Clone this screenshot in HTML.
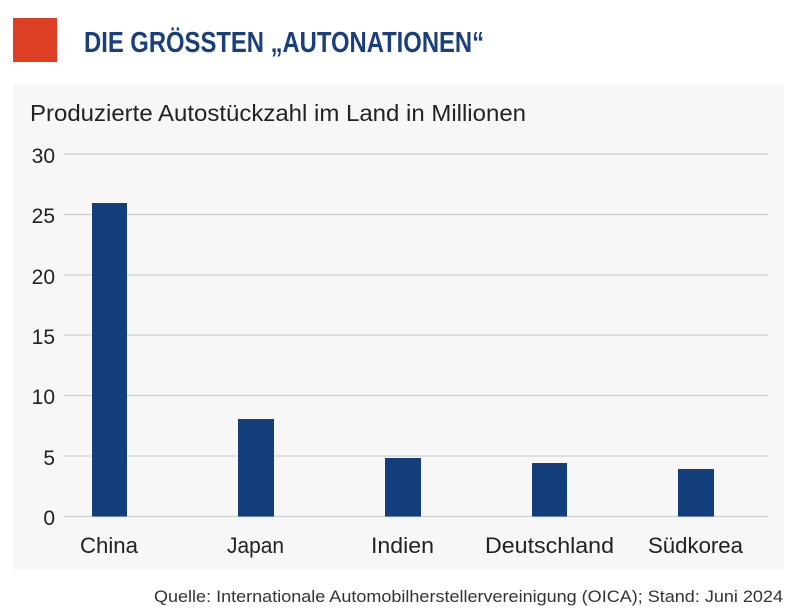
<!DOCTYPE html>
<html>
<head>
<meta charset="utf-8">
<style>
html,body{margin:0;padding:0;background:#fff;}
svg{display:block;}
text{font-family:"Liberation Sans",sans-serif;}
</style>
</head>
<body>
<svg width="803" height="614" viewBox="0 0 803 614" xmlns="http://www.w3.org/2000/svg">
  <rect x="0" y="0" width="803" height="614" fill="#ffffff"/>
  <rect x="13" y="18" width="44" height="44" fill="#dc3f23"/>
  <text x="84" y="52" font-size="29" font-weight="bold" fill="#1a3f7c" textLength="400" lengthAdjust="spacingAndGlyphs">DIE GRÖSSTEN „AUTONATIONEN“</text>

  <rect x="13" y="84" width="771" height="486" fill="#f7f7f7"/>
  <text x="30" y="121" font-size="23" fill="#222" textLength="496" lengthAdjust="spacingAndGlyphs">Produzierte Autostückzahl im Land in Millionen</text>

  <g stroke="#cfcfcf" stroke-width="1.2">
    <line x1="64" y1="154" x2="768" y2="154"/>
    <line x1="64" y1="214.5" x2="768" y2="214.5"/>
    <line x1="64" y1="275" x2="768" y2="275"/>
    <line x1="64" y1="335" x2="768" y2="335"/>
    <line x1="64" y1="395.5" x2="768" y2="395.5"/>
    <line x1="64" y1="456" x2="768" y2="456"/>
    <line x1="64" y1="516.5" x2="768" y2="516.5"/>
  </g>

  <g font-size="21" fill="#222" text-anchor="end">
    <text x="55" y="163">30</text>
    <text x="55" y="223">25</text>
    <text x="55" y="284">20</text>
    <text x="55" y="344">15</text>
    <text x="55" y="404">10</text>
    <text x="55" y="465">5</text>
    <text x="55" y="525">0</text>
  </g>

  <g fill="#123f7c">
    <rect x="92" y="203" width="35" height="313.5"/>
    <rect x="238" y="419" width="36" height="97.5"/>
    <rect x="385" y="458" width="36" height="58.5"/>
    <rect x="532" y="463" width="35" height="53.5"/>
    <rect x="678" y="469" width="36" height="47.5"/>
  </g>

  <g font-size="22" fill="#222">
    <text x="80" y="553" textLength="58" lengthAdjust="spacingAndGlyphs">China</text>
    <text x="227" y="553" textLength="57" lengthAdjust="spacingAndGlyphs">Japan</text>
    <text x="371" y="553" textLength="63" lengthAdjust="spacingAndGlyphs">Indien</text>
    <text x="485" y="553" textLength="129" lengthAdjust="spacingAndGlyphs">Deutschland</text>
    <text x="648" y="553" textLength="95" lengthAdjust="spacingAndGlyphs">Südkorea</text>
  </g>

  <text x="154" y="602" font-size="17" fill="#333" textLength="629" lengthAdjust="spacingAndGlyphs">Quelle: Internationale Automobilherstellervereinigung (OICA); Stand: Juni 2024</text>
</svg>
</body>
</html>
